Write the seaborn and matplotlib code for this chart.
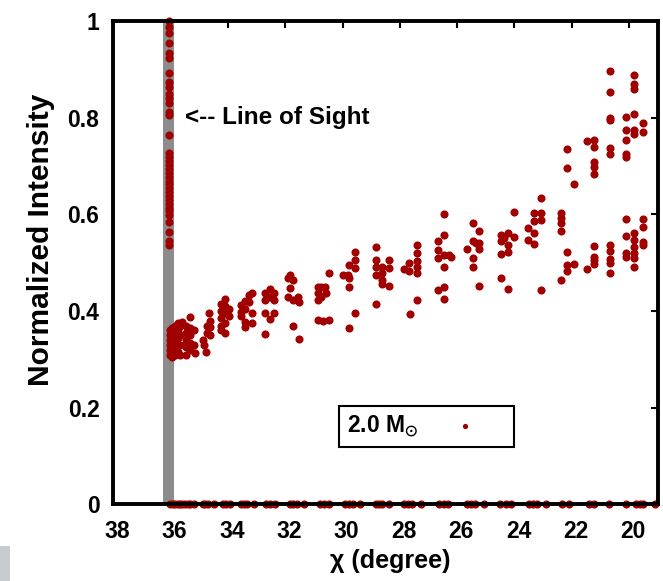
import matplotlib
matplotlib.use("Agg")
import matplotlib.pyplot as plt
from matplotlib.patches import Rectangle
from matplotlib.transforms import ScaledTranslation
import pandas as pd
import seaborn as sns

# Line-of-sight column (all points at the same chi)
los_chi = 36.05
los_intensity = [1.00, 0.988, 0.975, 0.954, 0.933, 0.923, 0.892, 0.874, 0.864,
                 0.850, 0.840, 0.830, 0.812, 0.806, 0.764, 0.726, 0.718, 0.710,
                 0.702, 0.694, 0.686, 0.678, 0.670, 0.662, 0.654, 0.646, 0.638,
                 0.630, 0.622, 0.614, 0.606, 0.599, 0.585, 0.564, 0.544, 0.537]

# Off-axis samples: chi (degree) and normalized intensity
spread_chi = [
    36.03, 36.03, 36.03, 36.03, 36.03, 36.03, 35.94, 35.94, 35.94, 35.94, 35.94,
    35.85, 35.85, 35.85, 35.85, 35.85, 35.76, 35.76, 35.76, 35.76, 35.76,
    35.68, 35.68, 35.68, 35.68, 35.59,
    35.45, 35.45, 35.45, 35.45, 35.45, 35.33, 35.33, 35.33, 35.33, 35.33,
    35.20, 35.20, 35.16,
    34.88, 34.85, 34.75, 34.74, 34.74, 34.65, 34.63, 34.63, 34.63,
    34.25, 34.25, 34.25, 34.25, 34.25, 34.10, 34.10, 34.10, 34.10, 34.10, 33.95, 33.95,
    33.55, 33.55, 33.55, 33.40, 33.40, 33.40, 33.40, 33.25, 33.25, 33.15, 33.15, 33.15,
    32.70, 32.70, 32.70, 32.70, 32.55, 32.55, 32.55, 32.40, 32.40, 32.40,
    31.83, 31.74, 31.92, 31.83, 31.92, 31.74, 31.57, 31.53, 31.74, 31.53,
    30.49, 30.86, 30.74, 30.63, 30.86, 30.57, 30.86, 30.74, 30.86, 30.69, 30.48,
    29.99, 29.82, 29.76, 29.58, 29.55, 29.76, 29.79, 29.58, 29.79, 29.58,
    28.85, 28.85, 28.85, 28.85, 28.62, 28.62, 28.62, 28.62, 28.39, 28.39, 28.39, 28.85,
    27.84, 27.67, 27.67, 27.41, 27.41, 27.41, 27.41, 27.41, 27.41, 27.64,
    26.68, 26.68, 26.68, 26.45, 26.45, 26.45, 26.27, 26.21, 26.45, 26.68, 26.45, 26.45,
    25.67, 25.46, 25.46, 25.46, 25.46, 25.25, 25.25, 25.25, 25.34, 25.25,
    24.47, 24.47, 24.47, 24.24, 24.24, 24.24, 24.36, 24.01, 24.03, 24.47, 24.24,
    23.54, 23.54, 23.31, 23.31, 23.31, 23.31, 23.08, 23.08, 23.08, 23.08,
    22.38, 22.38, 22.38, 22.38, 22.16, 22.16, 22.16, 21.92, 22.38, 22.16, 22.16, 21.92,
    21.46, 21.22, 21.22, 21.22, 21.22, 21.22, 21.46, 21.22, 21.22, 21.22, 21.22,
    20.67, 20.67, 20.67, 20.67, 20.67, 20.67, 20.67, 20.67, 20.67, 20.67, 20.67,
    20.09, 20.09, 20.09, 20.09, 20.09, 20.09, 20.09, 20.09, 20.09,
    19.84, 19.84, 19.84, 19.84, 19.84, 19.84, 19.84, 19.84, 19.84, 19.84, 19.84, 19.84,
    19.51, 19.51, 19.51, 19.51, 19.51, 19.51,
]
spread_intensity = [
    0.360, 0.350, 0.340, 0.330, 0.320, 0.310, 0.365, 0.350, 0.335, 0.320, 0.305,
    0.370, 0.355, 0.340, 0.325, 0.310, 0.375, 0.360, 0.345, 0.330, 0.315,
    0.370, 0.350, 0.330, 0.310, 0.378,
    0.370, 0.355, 0.340, 0.325, 0.310, 0.388, 0.365, 0.350, 0.335, 0.320,
    0.360, 0.330, 0.313,
    0.340, 0.330, 0.316, 0.355, 0.370, 0.396, 0.380, 0.367, 0.350,
    0.415, 0.400, 0.385, 0.370, 0.360, 0.425, 0.410, 0.395, 0.375, 0.355, 0.405, 0.390,
    0.413, 0.398, 0.390, 0.420, 0.405, 0.377, 0.367, 0.433, 0.419, 0.437, 0.396, 0.375,
    0.437, 0.423, 0.396, 0.353, 0.446, 0.430, 0.384, 0.437, 0.423, 0.396,
    0.475, 0.464, 0.468, 0.448, 0.429, 0.423, 0.429, 0.419, 0.369, 0.342,
    0.479, 0.450, 0.450, 0.450, 0.437, 0.437, 0.423, 0.430, 0.382, 0.380, 0.382,
    0.475, 0.475, 0.495, 0.506, 0.489, 0.468, 0.449, 0.395, 0.366, 0.522,
    0.533, 0.506, 0.492, 0.475, 0.492, 0.478, 0.464, 0.457, 0.506, 0.489, 0.452, 0.414,
    0.486, 0.500, 0.482, 0.537, 0.521, 0.504, 0.491, 0.478, 0.423, 0.394,
    0.544, 0.526, 0.509, 0.600, 0.557, 0.516, 0.516, 0.511, 0.492, 0.444, 0.450, 0.424,
    0.528, 0.582, 0.544, 0.509, 0.492, 0.566, 0.540, 0.528, 0.540, 0.452,
    0.557, 0.544, 0.518, 0.561, 0.537, 0.523, 0.551, 0.604, 0.554, 0.469, 0.445,
    0.571, 0.548, 0.602, 0.587, 0.562, 0.539, 0.633, 0.602, 0.588, 0.444,
    0.603, 0.593, 0.582, 0.566, 0.522, 0.495, 0.483, 0.497, 0.464, 0.735, 0.696, 0.663,
    0.752, 0.754, 0.739, 0.708, 0.698, 0.684, 0.487, 0.535, 0.512, 0.506, 0.497,
    0.897, 0.853, 0.799, 0.795, 0.737, 0.725, 0.537, 0.524, 0.508, 0.499, 0.479,
    0.802, 0.775, 0.754, 0.725, 0.719, 0.590, 0.555, 0.520, 0.512,
    0.888, 0.870, 0.859, 0.808, 0.775, 0.766, 0.562, 0.547, 0.533, 0.520, 0.510, 0.491,
    0.788, 0.771, 0.590, 0.574, 0.543, 0.537,
]

# Samples with zero intensity
zero_chi = [36.03, 35.93, 35.85, 35.76, 35.68, 35.59, 35.50, 35.41, 35.33, 35.19,
            34.88, 34.79, 34.70, 34.49, 34.18, 34.06, 33.94, 33.55, 33.45, 33.34,
            33.10, 32.68, 32.55, 32.37, 31.85, 31.72, 31.60, 31.36, 30.80, 30.65,
            30.49, 29.90, 29.78, 29.65, 29.40, 28.85, 28.73, 28.61, 28.37, 27.84,
            27.70, 27.56, 27.25, 26.62, 26.47, 26.31, 25.64, 25.50, 25.37, 25.05,
            24.50, 24.30, 24.11, 23.48, 23.35, 23.21, 22.89, 22.33, 22.08, 21.39,
            21.22, 20.70, 20.10, 19.75, 19.62, 19.50, 19.10]

los_band = (35.88, 36.26)
series_label = "2.0 M$_{\\odot}$"
x_ticks = [38, 36, 34, 32, 30, 28, 26, 24, 22, 20]
y_ticks = [0, 0.2, 0.4, 0.6, 0.8, 1.0]
y_tick_labels = ["0", "0.2", "0.4", "0.6", "0.8", "1"]

sns.set_style("white")
plt.rcParams["font.family"] = ["Liberation Sans", "DejaVu Sans"]
plt.rcParams["font.weight"] = "bold"
plt.rcParams["mathtext.default"] = "regular"
for key in ["text.color", "axes.labelcolor", "xtick.color", "ytick.color"]:
    plt.rcParams[key] = "black"

df = pd.DataFrame({
    "chi": [los_chi] * len(los_intensity) + spread_chi + zero_chi,
    "intensity": los_intensity + spread_intensity + [0.0] * len(zero_chi),
})

fig = plt.figure(figsize=(6.63, 5.81), dpi=100)
ax = fig.add_axes([0.171, 0.1317, 0.821, 0.8322])

ax.axvspan(*los_band, color="#8c8c8c", lw=0, zorder=0.5)

sns.scatterplot(data=df, x="chi", y="intensity", color="#a00000", s=34,
                linewidth=0, ax=ax, label=series_label, clip_on=False, zorder=1)

ax.set_xlim(38, 19)
ax.set_ylim(0, 1)
ax.set_xticks(x_ticks)
ax.set_yticks(y_ticks)
ax.set_yticklabels(y_tick_labels)

for side in ["left", "right", "top", "bottom"]:
    ax.spines[side].set_visible(True)
    ax.spines[side].set_color("black")
    ax.spines[side].set_linewidth(2.8)

ax.tick_params(direction="in", length=5, width=1.5, top=True, right=True,
               labelsize=16.5, colors="black")
ax.tick_params(axis="y", pad=10)
ax.tick_params(axis="x", pad=11)

# x tick labels sit a few pixels right of their ticks
shift = ScaledTranslation(4 / 100, 0, fig.dpi_scale_trans)
for lbl in ax.get_xticklabels():
    lbl.set_transform(lbl.get_transform() + shift)

ax.set_xlabel("χ (degree)", fontsize=18, fontweight="bold", color="black")
ax.set_ylabel("Normalized Intensity", fontsize=21.5, fontweight="bold", color="black")
ax.xaxis.set_label_coords(0.508, -0.092)
ax.yaxis.set_label_coords(-0.108, 0.547)

ax.text(35.5, 0.80, "<-- Line of Sight", ha="left", va="center",
        fontsize=17.5, fontweight="bold", color="black")

leg = ax.legend(loc="center", bbox_to_anchor=(0.575, 0.161), markerfirst=False,
                frameon=True, fancybox=False, framealpha=1, edgecolor="black",
                markerscale=0.65, handlelength=3.5, handletextpad=0.3,
                borderpad=0.35, prop={"weight": "bold", "size": 16.5})
leg.get_frame().set_linewidth(1.5)
for t in leg.get_texts():
    t.set_color("black")

fig.patches.append(Rectangle((0, 0), 10 / 663, 35 / 581, transform=fig.transFigure,
                             facecolor="#c8ccd1", edgecolor="none"))

fig.savefig("out.png", dpi=100)
